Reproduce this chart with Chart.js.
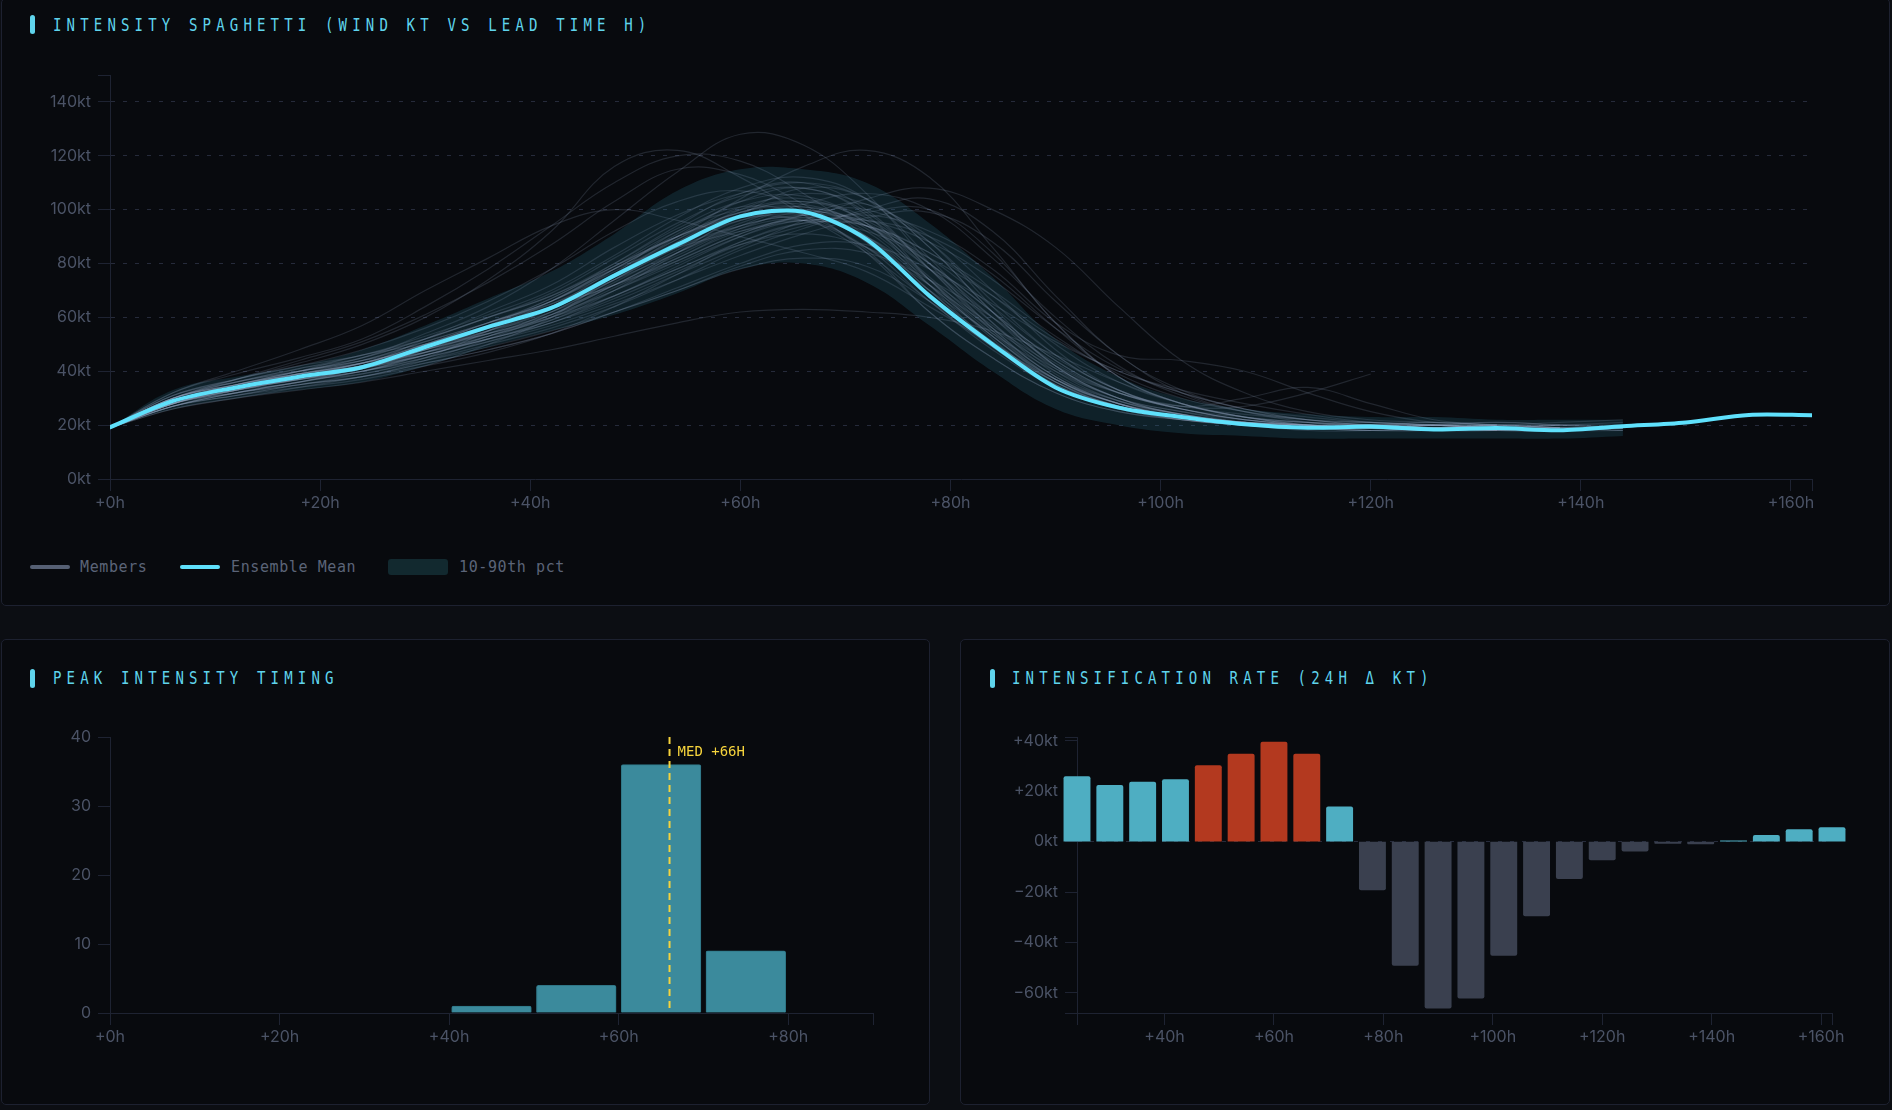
<!DOCTYPE html>
<html>
<head>
<meta charset="utf-8">
<script src="https://cdn.jsdelivr.net/npm/chart.js@4.4.1/dist/chart.umd.min.js"></script>
<style>
html, body { margin: 0; padding: 0; width: 1892px; height: 1110px; overflow: hidden; background: #0c0e13; }
.panel { position: absolute; box-sizing: border-box; background: #080a0e; border: 1px solid #1d2130; border-radius: 5px; }
.bar { position: absolute; width: 5px; height: 19px; border-radius: 3px; background: #5fd4ec; }
.title { position: absolute; height: 20px; line-height: 20px; white-space: nowrap; font-family: 'DejaVu Sans Mono', monospace; font-size: 18px; letter-spacing: 6.6px; color: #5fd4ec; transform: scaleX(0.78); transform-origin: left center; }
.box { position: absolute; }
.legend { position: absolute; left: 30px; top: 557px; height: 20px; font-family: 'DejaVu Sans Mono', monospace; font-size: 15px; letter-spacing: 0.6px; color: #5b6478; }
.legend div { position: absolute; }
.legend span { position: absolute; top: 0; line-height: 20px; white-space: nowrap; }
</style>
</head>
<body>
<div class="panel" style="left:1px; top:-2px; width:1889px; height:608px;"></div>
<div class="panel" style="left:1px; top:639px; width:929px; height:466px;"></div>
<div class="panel" style="left:960px; top:639px; width:930px; height:466px;"></div>

<div class="bar" style="left:30px; top:15px;"></div>
<div class="title" style="left:53px; top:15px;">INTENSITY SPAGHETTI (WIND KT VS LEAD TIME H)</div>
<div class="bar" style="left:30px; top:669px;"></div>
<div class="title" style="left:53px; top:668px;">PEAK INTENSITY TIMING</div>
<div class="bar" style="left:990px; top:669px;"></div>
<div class="title" style="left:1012px; top:668px;">INTENSIFICATION RATE (24H Δ KT)</div>

<div class="box" style="left:20px; top:55px; width:1810px; height:465px;"><canvas id="spaghetti"></canvas></div>
<div class="legend">
  <div style="left:0; top:8px; width:40px; height:4px; border-radius:2px; background:#566074;"></div>
  <span style="left:50px;">Members</span>
  <div style="left:150px; top:8px; width:40px; height:4px; border-radius:2px; background:#5fe1fc;"></div>
  <span style="left:201px;">Ensemble Mean</span>
  <div style="left:358px; top:2px; width:60px; height:16px; border-radius:3px; background:#12292f;"></div>
  <span style="left:429px;">10-90th pct</span>
</div>

<div class="box" style="left:20px; top:720px; width:880px; height:340px;"><canvas id="peak"></canvas></div>
<div class="box" style="left:980px; top:720px; width:880px; height:340px;"><canvas id="rate"></canvas></div>

<script>
// lead times (h), every 6h
var leadHours = [0, 6, 12, 18, 24, 30, 36, 42, 48, 54, 60, 66, 72, 78, 84, 90, 96, 102, 108, 114, 120, 126, 132, 138, 144, 150, 156, 162]

// ensemble mean wind (kt)
var meanWind = [19.2, 29, 34, 38, 41.5, 49, 56.5, 63.5, 75.5, 87, 97.5, 99.2, 89, 68, 50, 34, 26.5, 23, 20.3, 19, 19.5, 18.4, 18.9, 18.1, 19.6, 21, 23.8, 23.7]

// 10-90th percentile band (0..144h)
var bandLow = [19, 26, 30, 33, 36, 42, 49, 55, 61, 69, 78, 80, 73, 57, 40, 26, 20, 17, 16, 15, 15, 15, 15, 15, 16]
var bandHigh = [19, 33, 38, 42, 48, 57, 67, 77, 91, 107, 115, 115, 110, 95, 75, 52, 38, 30, 26, 24, 23, 23, 22, 22, 22]

// members (kt), one value per 6h from +0h, each ends when its track ends
var members = [
	[19, 28, 33, 37, 41, 48, 56, 64, 78, 91, 103, 108, 98, 74, 52, 35, 27, 23, 20, 19, 20, 19, 18, 18, 19],
	[19, 30, 35, 39, 43, 50, 58, 66, 79, 92, 101, 98, 85, 62, 45, 32, 25, 22, 20, 19, 20, 19, 18],
	[19, 28, 32, 36, 40, 46, 52, 59, 68, 79, 90, 98, 102, 88, 64, 42, 30, 25, 21, 20, 19, 20, 19, 18, 19],
	[19, 27, 31, 35, 38, 43, 48, 54, 62, 70, 78, 82, 79, 66, 50, 36, 28, 23, 20, 19, 19, 18, 19],
	[19, 32, 39, 45, 52, 64, 78, 94, 110, 120, 118, 106, 90, 70, 50, 35, 27, 23, 20, 19, 18],
	[19, 30, 35, 40, 45, 54, 64, 78, 96, 114, 128, 124, 106, 80, 56, 38, 29, 24, 21, 19, 19, 20],
	[19, 29, 34, 38, 41, 48, 55, 62, 72, 84, 95, 100, 92, 72, 53, 36, 27, 23, 20, 18, 18, 19, 19, 18, 19],
	[19, 28, 34, 38, 42, 47, 53, 60, 71, 82, 93, 99, 95, 78, 58, 40, 29, 24, 20, 19, 19, 18, 19, 20],
	[19, 27, 33, 37, 40, 45, 51, 58, 67, 77, 87, 94, 99, 100, 84, 58, 38, 28, 23, 20, 19, 19, 20, 19],
	[19, 26, 30, 33, 36, 40, 44, 48, 53, 58, 62, 63, 62, 60, 55, 46, 36, 28, 23, 20, 19, 18, 19],
	[19, 30, 36, 41, 45, 52, 60, 68, 80, 93, 103, 105, 95, 72, 50, 34, 26, 22, 20, 19, 20, 21, 20, 19, 19],
	[19, 29, 35, 39, 43, 50, 58, 66, 78, 90, 99, 103, 97, 80, 60, 41, 30, 24, 21, 20, 19, 19, 18, 18],
	[19, 31, 37, 42, 48, 56, 66, 78, 92, 103, 107, 100, 84, 62, 45, 32, 25, 22, 20, 19, 18, 19, 19],
	[19, 28, 33, 37, 41, 46, 53, 61, 73, 85, 96, 99, 90, 70, 51, 36, 27, 22, 20, 19, 19, 20, 21, 20, 19],
	[19, 27, 32, 35, 39, 44, 50, 56, 64, 74, 85, 93, 100, 104, 92, 68, 46, 33, 26, 22, 21, 20, 20, 21, 22],
	[19, 29, 34, 38, 42, 48, 54, 61, 72, 83, 93, 96, 86, 66, 49, 34, 27, 23, 21, 20, 19, 18],
	[19, 30, 35, 40, 44, 48, 55, 64, 72, 81, 91, 97, 94, 82, 64, 46, 33, 27, 30, 34, 28, 22, 20],
	[19, 28, 34, 38, 42, 47, 54, 63, 74, 86, 97, 101, 94, 75, 55, 38, 28, 23, 20, 19, 20, 20, 19, 18, 19],
	[19, 27, 32, 36, 40, 46, 52, 58, 68, 78, 87, 91, 86, 72, 56, 41, 32, 27, 27, 32, 39],
	[19, 29, 34, 38, 42, 48, 54, 60, 68, 78, 88, 95, 98, 92, 78, 58, 46, 44, 40, 32, 25, 21, 20],
	[19, 30, 36, 41, 46, 52, 60, 69, 82, 95, 105, 108, 99, 78, 56, 38, 28, 23, 20, 19, 19, 18, 18, 19],
	[19, 27, 32, 36, 40, 44, 49, 55, 62, 70, 79, 85, 84, 74, 60, 45, 33, 26, 22, 20, 19, 19, 20, 19],
	[19, 32, 40, 48, 57, 70, 82, 94, 100, 96, 90, 84, 77, 64, 50, 37, 28, 23, 21, 20, 19],
	[19, 28, 33, 38, 42, 49, 56, 64, 76, 89, 101, 104, 95, 74, 53, 37, 28, 23, 21, 19, 19, 20, 21, 20, 19],
	[19, 29, 34, 38, 43, 50, 57, 65, 76, 88, 98, 99, 88, 68, 51, 36, 27, 23, 21, 20, 20, 19, 19, 18, 18],
	[19, 28, 33, 37, 41, 47, 53, 60, 70, 81, 91, 98, 100, 88, 66, 46, 33, 26, 22, 21, 20, 19, 20, 20],
	[19, 26, 30, 34, 38, 43, 48, 54, 62, 71, 80, 87, 87, 78, 65, 51, 40, 32, 26, 23, 21, 20, 19, 18],
	[19, 30, 37, 44, 51, 61, 73, 87, 103, 115, 113, 102, 88, 68, 49, 35, 27, 22, 20, 19, 18, 18],
	[19, 29, 35, 40, 44, 51, 58, 66, 77, 89, 99, 102, 93, 74, 54, 37, 28, 23, 21, 20, 19, 19, 18, 19, 19],
	[19, 27, 32, 36, 40, 45, 51, 57, 65, 74, 83, 91, 97, 99, 88, 66, 46, 32, 25, 21, 19, 19, 19, 20, 20],
	[19, 29, 34, 39, 43, 49, 56, 64, 76, 90, 104, 116, 122, 112, 86, 58, 38, 28, 23, 20, 19, 19, 20],
	[19, 31, 37, 43, 50, 60, 74, 92, 116, 122, 112, 98, 84, 66, 48, 34, 26, 22, 20, 19, 19, 18, 19],
	[19, 27, 31, 34, 37, 42, 50, 60, 76, 92, 100, 103, 96, 80, 62, 44, 32, 26, 22, 20, 21, 20, 19, 19, 20],
	[19, 29, 33, 36, 42, 52, 62, 72, 86, 98, 106, 110, 104, 86, 62, 42, 30, 24, 21, 19, 18, 19, 20],
	[19, 28, 34, 40, 46, 50, 54, 62, 74, 88, 100, 106, 102, 90, 70, 48, 33, 26, 23, 21, 20, 20, 19, 19],
	[19, 30, 34, 37, 39, 45, 55, 66, 78, 86, 92, 96, 96, 90, 76, 56, 38, 28, 23, 21, 20, 19, 18, 18, 19],
	[19, 28, 33, 37, 41, 46, 52, 58, 66, 76, 86, 96, 104, 108, 100, 86, 64, 44, 32, 25, 22, 21, 20],
	[19, 29, 35, 39, 42, 48, 57, 67, 79, 90, 98, 100, 94, 80, 62, 44, 32, 26, 22, 20, 19, 20, 20, 19],
	[19, 30, 36, 40, 43, 47, 52, 59, 70, 84, 98, 108, 104, 86, 62, 42, 30, 24, 21, 19, 18, 18, 19, 20, 19],
	[19, 28, 32, 35, 38, 44, 52, 61, 72, 84, 94, 97, 90, 74, 57, 42, 32, 27, 24, 22, 21, 20, 19],
	[19, 29, 34, 39, 44, 51, 58, 65, 74, 84, 94, 102, 106, 100, 82, 60, 42, 31, 25, 22, 20, 19, 19, 18],
	[19, 31, 36, 40, 44, 50, 57, 64, 72, 82, 92, 96, 92, 82, 68, 52, 40, 33, 28, 24, 21, 20, 19, 20, 21],
	[19, 28, 33, 37, 40, 47, 55, 63, 75, 87, 96, 98, 90, 72, 53, 37, 28, 24, 21, 20, 19, 18, 18],
	[19, 30, 37, 42, 46, 53, 61, 70, 83, 97, 108, 112, 104, 82, 58, 39, 29, 24, 21, 19, 19, 20, 19, 19, 18],
	[19, 27, 31, 35, 38, 42, 47, 54, 64, 76, 88, 95, 94, 84, 68, 50, 36, 28, 23, 21, 20, 21, 20],
	[19, 29, 35, 40, 45, 52, 60, 68, 79, 90, 97, 96, 86, 70, 54, 40, 30, 25, 22, 20, 19, 19, 20, 19, 19],
	[19, 30, 35, 39, 42, 46, 53, 62, 74, 86, 94, 98, 96, 88, 74, 56, 41, 32, 26, 22, 20, 19, 18],
	[19, 28, 34, 39, 43, 50, 58, 67, 80, 94, 106, 110, 100, 78, 55, 37, 28, 23, 21, 20, 20, 19],
	[19, 29, 34, 38, 43, 49, 55, 61, 70, 80, 90, 96, 94, 84, 70, 53, 39, 30, 25, 22, 20, 20, 19, 19, 18],
	[19, 30, 35, 39, 43, 49, 57, 66, 78, 90, 99, 101, 94, 78, 60, 43, 32, 26, 22, 20, 19, 19, 18, 19]
]

// peak timing histogram (10h bins)
var peakBinCenters = [5, 15, 25, 35, 45, 55, 65, 75, 85]
var peakCounts = [0, 0, 0, 0, 1, 4, 36, 9, 0]
var peakMedianHour = 66

// 24h intensity change (kt)
var rateHours = [24, 30, 36, 42, 48, 54, 60, 66, 72, 78, 84, 90, 96, 102, 108, 114, 120, 126, 132, 138, 144, 150, 156, 162]
var rateValues = [25.8, 22.3, 23.6, 24.6, 30.2, 34.7, 39.5, 34.7, 13.8, -19.2, -49.1, -66.1, -62.1, -45.2, -29.5, -14.7, -7.3, -3.8, -0.7, -0.9, 0.3, 2.5, 4.8, 5.6]

// tick positions
var windTicks = [0, 20, 40, 60, 80, 100, 120, 140, 150]
var spaghettiHourTicks = [0, 20, 40, 60, 80, 100, 120, 140, 160, 162]
var peakHourTicks = [0, 20, 40, 60, 80, 90]
var peakCountTicks = [0, 10, 20, 30, 40]
var rateHourTicks = [24, 40, 60, 80, 100, 120, 140, 160, 162]
var rateTicks = [-68, -60, -40, -20, 0, 20, 40, 41.5]

var axisColor = '#1e2332'
var gridColor = '#262b3b'

Chart.defaults.font.family = 'Inter, sans-serif'
Chart.defaults.font.size = 16
Chart.defaults.color = '#4b5366'
Chart.defaults.animation = false

function fixedTicks(list) {
	return function (s) { s.ticks = list.map(function (v) { return { value: v } }) }
}
function xAxis(min, max, list, label, height) {
	return {
		type: 'linear', min: min, max: max, offset: false,
		afterBuildTicks: fixedTicks(list),
		afterFit: function (s) { s.height = height },
		ticks: { callback: label, padding: 3, maxRotation: 0, autoSkip: false },
		grid: { drawOnChartArea: false, offset: false, tickLength: 12, tickColor: axisColor },
		border: { color: axisColor, width: 1 }
	}
}
function yAxis(min, max, list, label, width, gridFor) {
	return {
		type: 'linear', min: min, max: max,
		afterBuildTicks: fixedTicks(list),
		afterFit: function (s) { s.width = width },
		ticks: { callback: label, padding: 7, autoSkip: false },
		grid: {
			color: function (c) { return c.tick && gridFor(c.tick.value) ? gridColor : 'rgba(0,0,0,0)' },
			tickLength: 12, tickColor: axisColor
		},
		border: { color: axisColor, width: 1, dash: [4, 8] }
	}
}
function pts(xs, ys) {
	return ys.map(function (v, i) { return { x: xs[i], y: v } })
}

//spaghetti
var datasets = [{
	data: pts(leadHours, meanWind),
	borderColor: '#5fe1fc', borderWidth: 4, tension: 0.3, pointRadius: 0, borderCapStyle: 'round'
}]
members.forEach(function (m) {
	datasets.push({
		data: pts(leadHours, m),
		borderColor: 'rgba(150,166,192,0.18)', borderWidth: 1.2, tension: 0.4, pointRadius: 0
	})
})
datasets.push({
	data: pts(leadHours, bandHigh),
	borderWidth: 0, pointRadius: 0, tension: 0.4, fill: '+1', backgroundColor: 'rgba(40,120,140,0.22)'
})
datasets.push({
	data: pts(leadHours, bandLow),
	borderWidth: 0, pointRadius: 0, tension: 0.4, fill: false
})

new Chart(document.getElementById('spaghetti'), {
	type: 'line',
	data: { datasets: datasets },
	options: {
		responsive: true, maintainAspectRatio: false,
		layout: { padding: { top: 20, right: 18, left: 0, bottom: 0 } },
		plugins: { legend: { display: false }, tooltip: { enabled: false } },
		scales: {
			x: xAxis(0, 162, spaghettiHourTicks, function (v) { return v % 20 === 0 ? '+' + v + 'h' : '' }, 41),
			y: yAxis(0, 150, windTicks, function (v) { return v % 20 === 0 ? v + 'kt' : '' }, 90,
				function (v) { return v > 0 && v % 20 === 0 })
		}
	}
})

//peak timing
var medianLine = {
	id: 'medianLine',
	afterDatasetsDraw: function (chart) {
		var ctx = chart.ctx, area = chart.chartArea
		var x = chart.scales.x.getPixelForValue(peakMedianHour)
		ctx.save()
		ctx.strokeStyle = '#f5d33c'
		ctx.lineWidth = 2
		ctx.setLineDash([7, 5])
		ctx.beginPath()
		ctx.moveTo(x, area.top)
		ctx.lineTo(x, area.bottom)
		ctx.stroke()
		ctx.setLineDash([])
		ctx.fillStyle = '#f5d33c'
		ctx.font = '14px "DejaVu Sans Mono", monospace'
		ctx.textBaseline = 'middle'
		ctx.fillText('MED +' + peakMedianHour + 'H', x + 8, area.top + 15)
		ctx.restore()
	}
}

new Chart(document.getElementById('peak'), {
	type: 'bar',
	data: {
		datasets: [{
			data: pts(peakBinCenters, peakCounts),
			backgroundColor: '#3b8a9c', borderColor: '#2f7686', borderWidth: 1, borderRadius: 2,
			barThickness: 'flex', barPercentage: 1, categoryPercentage: 0.94
		}]
	},
	options: {
		responsive: true, maintainAspectRatio: false,
		layout: { padding: { top: 17, right: 27, left: 0, bottom: 0 } },
		plugins: { legend: { display: false }, tooltip: { enabled: false } },
		scales: {
			x: xAxis(0, 90, peakHourTicks, function (v) { return v % 20 === 0 ? '+' + v + 'h' : '' }, 47),
			y: yAxis(0, 40, peakCountTicks, function (v) { return v }, 90, function () { return false })
		}
	},
	plugins: [medianLine]
})

//intensification rate
new Chart(document.getElementById('rate'), {
	type: 'bar',
	data: {
		datasets: [{
			data: pts(rateHours, rateValues),
			backgroundColor: function (c) {
				var v = c.raw ? c.raw.y : 0
				if (v >= 30) return '#b3391f'
				if (v > 0) return '#4eaec2'
				return '#3a404f'
			},
			borderRadius: 2, barThickness: 'flex', barPercentage: 1, categoryPercentage: 0.8, clip: false
		}]
	},
	options: {
		responsive: true, maintainAspectRatio: false,
		layout: { padding: { top: 17, right: 28, left: 0, bottom: 0 } },
		plugins: { legend: { display: false }, tooltip: { enabled: false } },
		scales: {
			x: xAxis(24, 162, rateHourTicks, function (v) { return v % 20 === 0 ? '+' + v + 'h' : '' }, 47),
			y: yAxis(-68, 41.5, rateTicks, function (v) {
				if (v % 20 !== 0) return ''
				return (v > 0 ? '+' : v < 0 ? '\u2212' : '') + Math.abs(v) + 'kt'
			}, 97, function (v) { return v === 0 })
		}
	}
})
</script>
</body>
</html>
